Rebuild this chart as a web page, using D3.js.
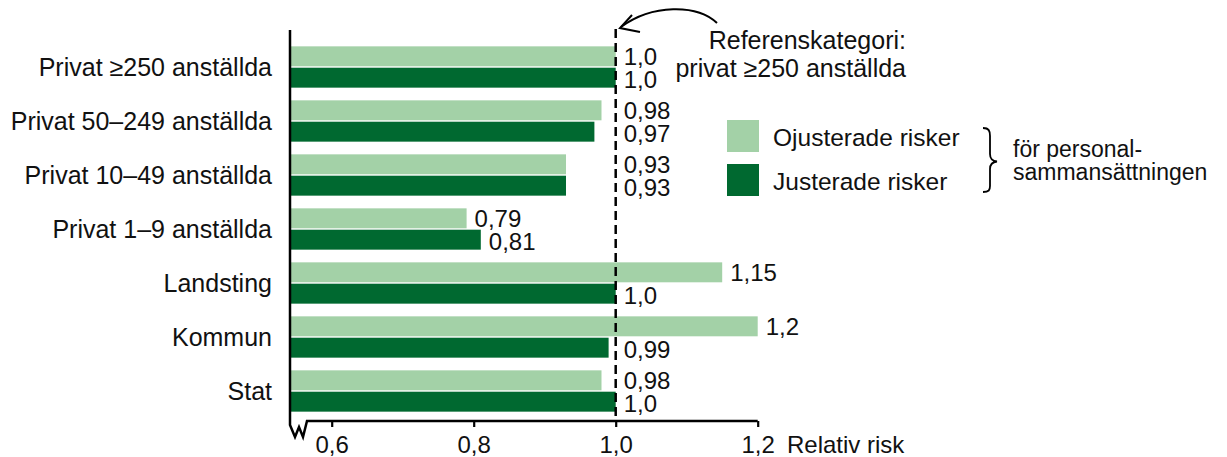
<!DOCTYPE html>
<html>
<head>
<meta charset="utf-8">
<script src="https://cdn.jsdelivr.net/npm/d3@7"></script>
<style>
  html, body { margin: 0; padding: 0; background: #fff; }
  svg { display: block; font-family: "Liberation Sans", Arial, Helvetica, sans-serif; }
</style>
</head>
<body>
<svg id="chart" width="1227" height="457"></svg>
<script>
const categories = ["Privat ≥250 anställda", "Privat 50–249 anställda", "Privat 10–49 anställda", "Privat 1–9 anställda", "Landsting", "Kommun", "Stat"];
const seriesNames = ["Ojusterade risker", "Justerade risker"];
const unadjusted = [1.0, 0.98, 0.93, 0.79, 1.15, 1.2, 0.98];
const adjusted = [1.0, 0.97, 0.93, 0.81, 1.0, 0.99, 1.0];
const tickValues = [0.6, 0.8, 1.0, 1.2];
const referenceValue = 1.0;
const referenceLines = ["Referenskategori:", "privat ≥250 anställda"];
const braceLines = ["för personal-", "sammansättningen"];
const axisTitle = "Relativ risk";

const colors = ["#a3d1a7", "#006930"];
const svg = d3.select("#chart");

const axisX0 = 290, axisY = 421;
const x = d3.scaleLinear().domain([1 - (615.7 - 290) / 710, 1.2]).range([290, 757.7]);
const y = d3.scaleBand().domain(categories).range([40, 418]).paddingInner(0.235).paddingOuter(0.1175);
const yInner = d3.scaleBand().domain([0, 1]).range([0, y.bandwidth()]).paddingInner(0.065);

const fmt = v => {
  const s = (Math.round(v * 100) % 10 === 0) ? v.toFixed(1) : v.toFixed(2);
  return s.replace(".", ",");
};

const rows = categories.map((c, i) => ({ c, vals: [unadjusted[i], adjusted[i]] }));

// bars
const g = svg.append("g");
rows.forEach(r => {
  r.vals.forEach((v, k) => {
    g.append("rect")
      .attr("x", x.range()[0])
      .attr("y", y(r.c) + yInner(k))
      .attr("width", x(v) - x.range()[0])
      .attr("height", yInner.bandwidth())
      .attr("fill", colors[k]);
  });
});

// dashed reference line
svg.append("line")
  .attr("x1", x(referenceValue)).attr("x2", x(referenceValue))
  .attr("y1", 29).attr("y2", axisY)
  .attr("stroke", "#000").attr("stroke-width", 2.5)
  .attr("stroke-dasharray", "9,5");

// value labels (after bar end; pushed past the reference line if they would cross it)
rows.forEach(r => {
  r.vals.forEach((v, k) => {
    const t = svg.append("text")
      .attr("y", y(r.c) + yInner(k) + yInner.bandwidth() / 2 + (k === 1 ? 1.5 : 0))
      .attr("dy", "0.36em")
      .attr("font-size", 24)
      .attr("fill", "#111")
      .text(fmt(v));
    const w = t.node().getComputedTextLength();
    let lx = x(v) + 8;
    if (v < referenceValue && lx + w > x(referenceValue) - 4) lx = x(referenceValue) + 8;
    t.attr("x", lx);
  });
});

// category labels
rows.forEach(r => {
  svg.append("text")
    .attr("x", 272)
    .attr("y", y(r.c) + y.bandwidth() / 2)
    .attr("dy", "0.36em")
    .attr("text-anchor", "end")
    .attr("font-size", 25)
    .attr("fill", "#111")
    .text(r.c);
});

// axes with break
svg.append("path")
  .attr("d", `M${axisX0},30 V425 L295,437 L299,427 L303,437 L307,${axisY} H${x(1.2)}`)
  .attr("fill", "none").attr("stroke", "#000").attr("stroke-width", 2.5)
  .attr("stroke-linejoin", "miter");

const xAxis = d3.axisBottom(x).tickValues(tickValues).tickFormat(fmt).tickSize(6).tickPadding(9);
const ax = svg.append("g").attr("transform", `translate(0,${axisY})`).call(xAxis);
ax.select(".domain").remove();
ax.selectAll(".tick line").attr("stroke", "#000").attr("stroke-width", 2.2);
ax.selectAll(".tick text").attr("font-size", 24).attr("fill", "#111")
  .attr("font-family", "'Liberation Sans', Arial, sans-serif");

svg.append("text").attr("x", 787).attr("y", 453).attr("font-size", 24).attr("fill", "#111").text(axisTitle);

// reference annotation
referenceLines.forEach((t, i) => {
  svg.append("text").attr("x", 906).attr("y", 49 + i * 28)
    .attr("text-anchor", "end").attr("font-size", 25).attr("fill", "#111").text(t);
});
svg.append("path")
  .attr("d", "M717,23 C697,4 652,4 621,27")
  .attr("fill", "none").attr("stroke", "#000").attr("stroke-width", 2);
svg.append("path")
  .attr("d", "M632,15 L620,28 L640,32")
  .attr("fill", "none").attr("stroke", "#000").attr("stroke-width", 2)
  .attr("stroke-linejoin", "miter");

// legend
seriesNames.forEach((n, k) => {
  const ly = 120 + k * 44;
  svg.append("rect").attr("x", 727).attr("y", ly).attr("width", 32).attr("height", 32).attr("fill", colors[k]);
  svg.append("text").attr("x", 773).attr("y", ly + 26).attr("font-size", 24.5).attr("fill", "#111").text(n);
});

// brace
svg.append("path")
  .attr("d", "M983,128 C989,128 990,131 990,136 V154 C990,159 992,161 997,161.5 C992,162 990,164 990,169 V186 C990,190 989,192 983,192")
  .attr("fill", "none").attr("stroke", "#000").attr("stroke-width", 1.8);
braceLines.forEach((t, i) => {
  svg.append("text").attr("x", 1013).attr("y", 157 + i * 22.5)
    .attr("font-size", 23).attr("fill", "#111").text(t);
});
</script>
</body>
</html>
